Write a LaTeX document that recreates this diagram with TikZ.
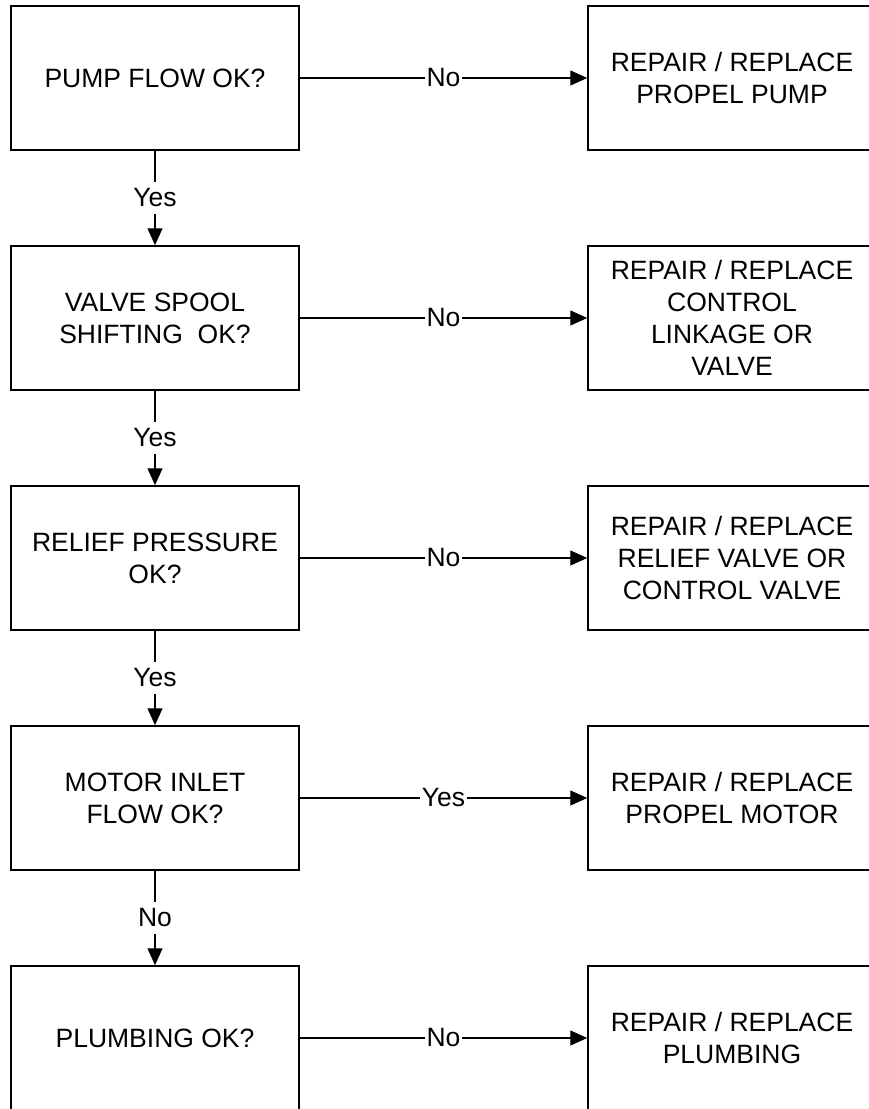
\documentclass[tikz,border=0pt]{standalone}
\usepackage{fontspec}
\setmainfont{Liberation Sans}
\usetikzlibrary{shapes,arrows,arrows.meta,fit,calc,positioning}
\tikzset{box/.style={draw,rectangle,line width=1.5pt,minimum width=288pt,minimum height=144pt,align=center,inner sep=0pt}}
\tikzset{lbl/.style={fill=white,inner xsep=1.5pt,inner ysep=7pt}}

\begin{document}
\begin{tikzpicture}[>={Triangle[length=17pt,width=15pt]}, line width=1.2pt, node distance=240pt, x=1pt, y=1pt, font=\fontsize{26.5}{32}\selectfont]
\useasboundingbox (0,0) rectangle (869,-1109);
\clip (0,0) rectangle (869,-1109);
% questions
\node[box] (Q1) at (155,-78) {PUMP FLOW OK?};
\node[box][below of =Q1] (Q2) {VALVE SPOOL\\SHIFTING~\ OK?};
\node[box][below of =Q2] (Q3) {RELIEF PRESSURE\\OK?};
\node[box][below of =Q3] (Q4) {MOTOR INLET\\FLOW OK?};
\node[box][below of =Q4] (Q5) {PLUMBING OK?};
% repairs
\node[box][right of =Q1, node distance=577pt] (R1) {REPAIR / REPLACE\\PROPEL PUMP};
\node[box][right of =Q2, node distance=577pt] (R2) {REPAIR / REPLACE\\CONTROL\\LINKAGE OR\\VALVE};
\node[box][right of =Q3, node distance=577pt] (R3) {REPAIR / REPLACE\\RELIEF VALVE OR\\CONTROL VALVE};
\node[box][right of =Q4, node distance=577pt] (R4) {REPAIR / REPLACE\\PROPEL MOTOR};
\node[box][right of =Q5, node distance=577pt] (R5) {REPAIR / REPLACE\\PLUMBING};
\path[->](Q1) edge node[lbl] {No} (R1)
	(Q1) edge node[lbl] {Yes} (Q2)
	(Q2) edge node[lbl] {No} (R2)
	(Q2) edge node[lbl] {Yes} (Q3)
	(Q3) edge node[lbl] {No} (R3)
	(Q3) edge node[lbl] {Yes} (Q4)
	(Q4) edge node[lbl] {Yes} (R4)
	(Q4) edge node[lbl] {No} (Q5)
	(Q5) edge node[lbl] {No} (R5);
\end{tikzpicture}
\end{document}
